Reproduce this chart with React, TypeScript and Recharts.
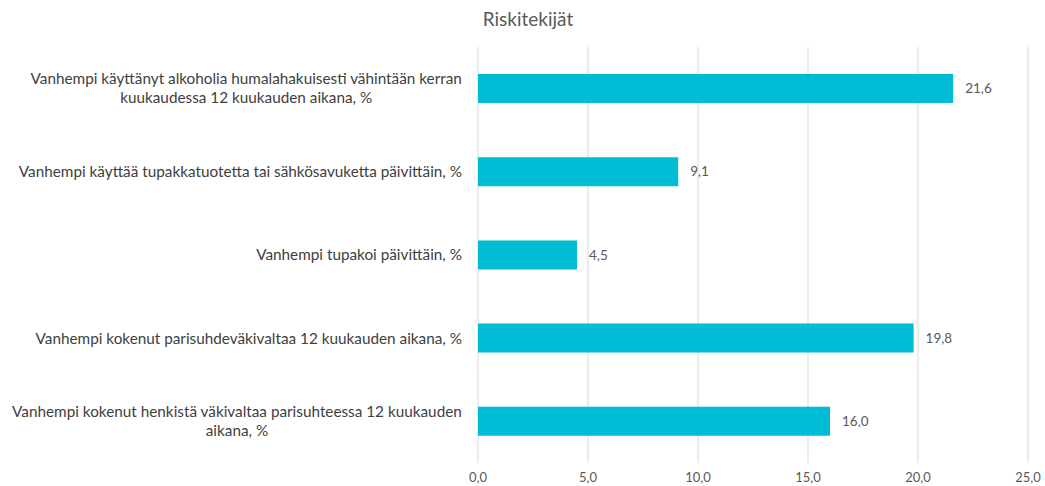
import { BarChart, Bar, XAxis, YAxis, CartesianGrid, LabelList } from "recharts";

const categories = [
  ["Vanhempi käyttänyt alkoholia humalahakuisesti vähintään kerran", "kuukaudessa 12 kuukauden aikana, %"],
  ["Vanhempi käyttää tupakkatuotetta tai sähkösavuketta päivittäin, %"],
  ["Vanhempi tupakoi päivittäin, %"],
  ["Vanhempi kokenut parisuhdeväkivaltaa 12 kuukauden aikana, %"],
  ["Vanhempi kokenut henkistä väkivaltaa parisuhteessa 12 kuukauden", "aikana, %"],
];
const values = [21.6, 9.1, 4.5, 19.8, 16.0];
const xTicks = [0, 5, 10, 15, 20, 25];

const data = categories.map((lines, i) => ({ name: lines.join(" "), lines, value: values[i] }));

const FONT = "Lato, 'Open Sans', sans-serif";
const fmt = (v: number) => v.toFixed(1).replace(".", ",");

let ctx: CanvasRenderingContext2D | null = null;
function measure(text: string, size: number) {
  if (!ctx) ctx = document.createElement("canvas").getContext("2d");
  if (!ctx) return text.length * size * 0.5;
  ctx.font = `${size}px ${FONT}`;
  return ctx.measureText(text).width;
}

function CategoryTick({ x, y, payload }: any) {
  const row = data.find((d) => d.name === payload.value);
  const lines = row ? row.lines : [String(payload.value)];
  const size = 15.3;
  const w = Math.max(...lines.map((l) => measure(l, size)));
  const cx = x - 8 - w / 2;
  const lh = 19;
  const startY = y - ((lines.length - 1) * lh) / 2;
  return (
    <text textAnchor="middle" fontSize={size} fontFamily={FONT} fill="#404040">
      {lines.map((l, i) => (
        <tspan key={i} x={cx} y={startY + i * lh} dy="0.35em">{l}</tspan>
      ))}
    </text>
  );
}

export default function App() {
  return (
    <div style={{ position: "absolute", left: 0, top: 0, width: 1045, height: 486, background: "#fff" }}>
      <div style={{ position: "absolute", top: 7, left: 0, width: 1056, textAlign: "center", fontFamily: FONT, fontSize: 19, color: "#595959" }}>
        Riskitekijät
      </div>
      <BarChart
        width={1045}
        height={486}
        data={data}
        layout="vertical"
        margin={{ top: 47, right: 17, bottom: 0, left: 0 }}
        barCategoryGap={0}
      >
        <CartesianGrid horizontal={false} stroke="#d9d9d9" />
        <XAxis
          type="number"
          domain={[0, 25]}
          ticks={xTicks}
          tickFormatter={fmt}
          axisLine={false}
          tickLine={false}
          height={23}
          tick={{ fontSize: 13, fontFamily: FONT, fill: "#595959" }}
          tickMargin={4}
        />
        <YAxis
          type="category"
          dataKey="name"
          width={478}
          axisLine={false}
          tickLine={false}
          tick={<CategoryTick />}
        />
        <Bar dataKey="value" fill="#00BCD4" barSize={29} isAnimationActive={false}>
          <LabelList
            dataKey="value"
            position="right"
            offset={12}
            formatter={(v: any) => fmt(Number(v))}
            style={{ fontSize: 13.5, fontFamily: FONT, fill: "#595959" }}
          />
        </Bar>
      </BarChart>
    </div>
  );
}
